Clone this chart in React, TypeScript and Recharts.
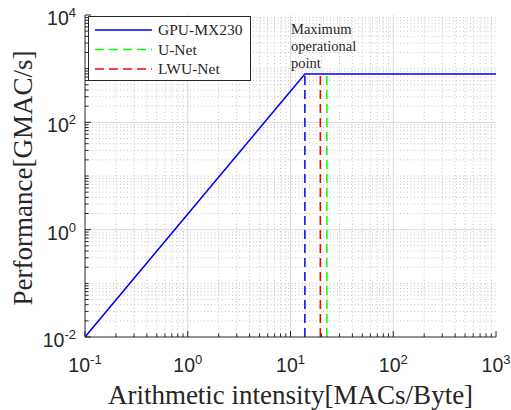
import { ComposedChart, Label, Legend, Line, ReferenceLine, XAxis, YAxis } from 'recharts'

// roofline of the GPU: memory-bound slope, then flat compute roof
const roofX = [0.1, 13.8, 1000]
const roofY = [0.01, 795, 795]

// operating points dropped down to the x axis
const gpuKneeX = 13.8
const lwuNetX = 19.5
const uNetX = 22.6
const dropY = [0.01, 795]

const xDecades = [0.1, 1, 10, 100, 1000]
const yDecades = [0.01, 0.1, 1, 10, 100, 1000, 10000]
const yLabelled = [0.01, 1, 100, 10000]
const minorSteps = [2, 3, 4, 5, 6, 7, 8, 9]

const annotationLines = ['Maximum', 'operational', 'point']

const xMinor = xDecades.slice(0, -1).flatMap((d) => minorSteps.map((s) => s * d))
const yMinor = yDecades
  .slice(0, -1)
  .flatMap((d) => minorSteps.map((s) => s * d))
  .concat(yDecades.filter((d) => !yLabelled.includes(d)))
const xTicks = [...xDecades, ...xMinor]
const yTicks = [...yDecades, ...yDecades.slice(0, -1).flatMap((d) => minorSteps.map((s) => s * d))]

const legendItems = [
  { name: 'GPU-MX230', color: '#0000ff', dash: undefined },
  { name: 'U-Net', color: '#00ff00', dash: '9 5' },
  { name: 'LWU-Net', color: '#ff0000', dash: '9 5' },
]

const INK = '#262626'
const SERIF = '"Liberation Serif", "Times New Roman", serif'
const SANS = '"Liberation Sans", Arial, sans-serif'

const toPoints = (xs: number[], ys: number[]) => xs.map((x, i) => ({ x, y: ys[i] }))
const roof = toPoints(roofX, roofY)
const drop = (x: number) => toPoints([x, x], dropY)

const isIn = (list: number[], v: number) => list.some((m) => Math.abs(m - v) / m < 1e-6)

function AxisTick(props: any) {
  const { x, y, payload, side } = props
  const v = payload.value as number
  const major = side === 'bottom' || side === 'top' ? isIn(xDecades, v) : isIn(yLabelled, v)
  const len = major ? 6 : 3.5
  let x2 = x
  let y2 = y
  if (side === 'bottom') y2 = y - len
  if (side === 'top') y2 = y + len
  if (side === 'left') x2 = x + len
  if (side === 'right') x2 = x - len
  const exp = Math.round(Math.log10(v))
  return (
    <g>
      <line x1={x} y1={y} x2={x2} y2={y2} stroke={INK} strokeWidth={1} />
      {major && side === 'bottom' && (
        <text x={x} y={y + 35} textAnchor="middle" fontFamily={SANS} fontSize={19.5} fill={INK}>
          10
          <tspan dy={-8} fontSize={13}>
            {exp}
          </tspan>
        </text>
      )}
      {major && side === 'left' && (
        <text x={x - 9} y={y + 10} textAnchor="end" fontFamily={SANS} fontSize={19.5} fill={INK}>
          10
          <tspan dy={-8} fontSize={13}>
            {exp}
          </tspan>
        </text>
      )}
    </g>
  )
}

function LegendBox() {
  return (
    <svg width={163} height={65} style={{ display: 'block' }}>
      <rect x={0.5} y={0.5} width={162} height={64} fill="#fff" stroke={INK} strokeWidth={1} />
      {legendItems.map((it, i) => {
        const cy = 14 + i * 19.5
        return (
          <g key={it.name}>
            <line x1={7} x2={64} y1={cy} y2={cy} stroke={it.color} strokeWidth={1.5} strokeDasharray={it.dash} />
            <text x={70} y={cy + 5} fontFamily={SERIF} fontSize={15.5} fill={INK}>
              {it.name}
            </text>
          </g>
        )
      })}
    </svg>
  )
}

const XTitle = () => (
  <text x={290.5} y={404} textAnchor="middle" fontFamily={SERIF} fontSize={27} fill={INK}>
    Arithmetic intensity[MACs/Byte]
  </text>
)

const YTitle = () => (
  <text
    x={32}
    y={178}
    transform="rotate(-90 32 178)"
    textAnchor="middle"
    fontFamily={SERIF}
    fontSize={27}
    fill={INK}
  >
    Performance[GMAC/s]
  </text>
)

export default function App() {
  return (
    <div style={{ position: 'relative', width: 511, height: 410, background: '#fff' }}>
      <style>{'body{margin:0}'}</style>
      <ComposedChart width={511} height={410} margin={{ top: 15, right: 15, bottom: 0, left: 0 }}>
        <XAxis
          dataKey="x"
          type="number"
          scale="log"
          domain={[0.1, 1000]}
          allowDataOverflow
          ticks={xTicks}
          interval={0}
          tickSize={0}
          tickMargin={0}
          tickLine={false}
          height={73}
          axisLine={{ stroke: INK }}
          tick={(p: any) => <AxisTick {...p} side="bottom" />}
        >
          <Label content={XTitle} />
        </XAxis>
        <XAxis
          xAxisId="top"
          orientation="top"
          dataKey="x"
          type="number"
          scale="log"
          domain={[0.1, 1000]}
          allowDataOverflow
          ticks={xTicks}
          interval={0}
          tickSize={0}
          tickMargin={0}
          tickLine={false}
          height={0}
          axisLine={{ stroke: INK }}
          tick={(p: any) => <AxisTick {...p} side="top" />}
        />
        <YAxis
          type="number"
          scale="log"
          domain={[0.01, 10000]}
          allowDataOverflow
          ticks={yTicks}
          interval={0}
          tickSize={0}
          tickMargin={0}
          tickLine={false}
          width={85}
          axisLine={{ stroke: INK }}
          tick={(p: any) => <AxisTick {...p} side="left" />}
        >
          <Label content={YTitle} />
        </YAxis>
        <YAxis
          yAxisId="right"
          orientation="right"
          type="number"
          scale="log"
          domain={[0.01, 10000]}
          allowDataOverflow
          ticks={yTicks}
          interval={0}
          tickSize={0}
          tickMargin={0}
          tickLine={false}
          width={0}
          axisLine={{ stroke: INK }}
          tick={(p: any) => <AxisTick {...p} side="right" />}
        />

        {xMinor.map((v) => (
          <ReferenceLine key={'xm' + v} x={v} stroke="#c4c4c4" strokeDasharray="1 2.5" />
        ))}
        {yMinor.map((v) => (
          <ReferenceLine key={'ym' + v} y={v} stroke="#c4c4c4" strokeDasharray="1 2.5" />
        ))}
        {xDecades.slice(1, -1).map((v) => (
          <ReferenceLine key={'xM' + v} x={v} stroke="#dadada" />
        ))}
        {yLabelled.slice(1, -1).map((v) => (
          <ReferenceLine key={'yM' + v} y={v} stroke="#dadada" />
        ))}

        <Line
          data={roof}
          dataKey="y"
          name="GPU-MX230"
          stroke="#0000ff"
          strokeWidth={1.5}
          dot={false}
          isAnimationActive={false}
        />
        <Line
          data={drop(gpuKneeX)}
          dataKey="y"
          name="GPU knee"
          stroke="#0000ff"
          strokeWidth={1.5}
          strokeDasharray="9 5"
          dot={false}
          legendType="none"
          isAnimationActive={false}
        />
        <Line
          data={drop(uNetX)}
          dataKey="y"
          name="U-Net"
          stroke="#00ff00"
          strokeWidth={1.5}
          strokeDasharray="9 5"
          dot={false}
          isAnimationActive={false}
        />
        <Line
          data={drop(lwuNetX)}
          dataKey="y"
          name="LWU-Net"
          stroke="#ff0000"
          strokeWidth={1.5}
          strokeDasharray="9 5"
          dot={false}
          isAnimationActive={false}
        />

        <Legend
          layout="vertical"
          align="center"
          verticalAlign="middle"
          content={LegendBox}
          wrapperStyle={{ left: 88, top: 16, width: 163, height: 65 }}
        />
      </ComposedChart>
      <div
        style={{
          position: 'absolute',
          left: 291,
          top: 21,
          fontFamily: SERIF,
          fontSize: 14.5,
          lineHeight: '16.8px',
          color: INK,
          whiteSpace: 'nowrap',
        }}
      >
        {annotationLines.map((t) => (
          <div key={t}>{t}</div>
        ))}
      </div>
    </div>
  )
}
